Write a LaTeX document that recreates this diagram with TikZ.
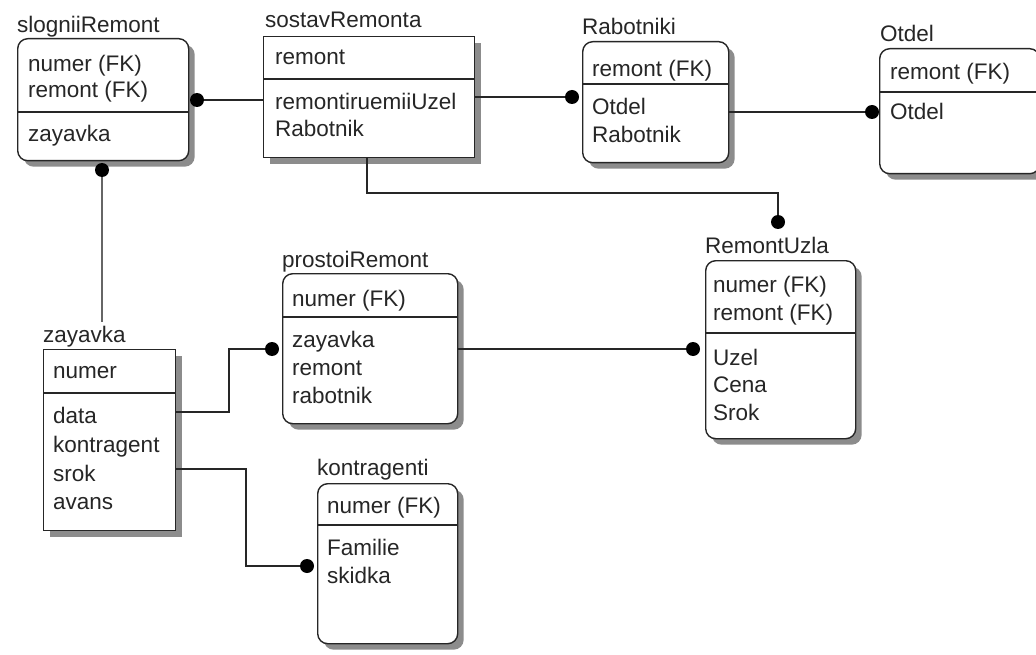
\documentclass[tikz,border=0pt]{standalone}
\usepackage{fontspec}
\setmainfont{Liberation Sans}
\usetikzlibrary{shadows}
\begin{document}
\begin{tikzpicture}[x=1pt,y=-1pt,
  ent/.style={draw=black!85, line width=1.4pt, fill=white, inner sep=0pt, anchor=north west,
     drop shadow={shadow xshift=6pt, shadow yshift=-6pt, fill=black!45, opacity=1}},
  dep/.style={ent, rounded corners=10pt},
  divl/.style={draw=black!85, line width=1.4pt},
  txt/.style={anchor=base west, inner sep=0pt, font=\fontsize{22.5}{27}\selectfont, text=black!85},
  rel/.style={draw=black!85, line width=1.4pt},
  dotc/.style={circle, fill=black, inner sep=0pt, minimum size=14pt}]
\useasboundingbox (0,0) rectangle (1036,655);
% ---------- entities ----------
\node[dep, minimum width=171pt, minimum height=122pt] (slog) at (17,38) {};
\node[ent, minimum width=211pt, minimum height=121pt] (sost) at (263,36) {};
\node[dep, minimum width=146pt, minimum height=121pt] (rabo) at (582,41) {};
\node[dep, minimum width=160pt, minimum height=125pt] (otde) at (879,48) {};
\node[ent, minimum width=132pt, minimum height=181pt] (zaya) at (43,349) {};
\node[dep, minimum width=175pt, minimum height=150pt] (pros) at (282,273) {};
\node[dep, minimum width=150pt, minimum height=178pt] (remu) at (705,260) {};
\node[dep, minimum width=140pt, minimum height=160pt] (kont) at (317,483) {};
% dividers
\draw[divl] (slog.west |- 0,112) -- (slog.east |- 0,112);
\draw[divl] (sost.west |- 0,79) -- (sost.east |- 0,79);
\draw[divl] (rabo.west |- 0,84) -- (rabo.east |- 0,84);
\draw[divl] (otde.west |- 0,92) -- (otde.east |- 0,92);
\draw[divl] (zaya.west |- 0,393) -- (zaya.east |- 0,393);
\draw[divl] (pros.west |- 0,317) -- (pros.east |- 0,317);
\draw[divl] (remu.west |- 0,333) -- (remu.east |- 0,333);
\draw[divl] (kont.west |- 0,525) -- (kont.east |- 0,525);
% ---------- titles ----------
\node[txt] (slogT) at (17,33) {slogniiRemont};
\node[txt] (sostT) at (265,28) {sostavRemonta};
\node[txt] (raboT) at (582,35) {Rabotniki};
\node[txt] (otdeT) at (880,42) {Otdel};
\node[txt] (zayaT) at (43,342) {zayavka};
\node[txt] (prosT) at (282,267) {prostoiRemont};
\node[txt] (remuT) at (705,253) {RemontUzla};
\node[txt] (kontT) at (317,475) {kontragenti};
% ---------- attributes ----------
\node[txt] (s1) at (28,72) {numer (FK)};
\node[txt] (s2) at (28,98) {remont (FK)};
\node[txt] (s3) at (28,142) {zayavka};
\node[txt] (o1) at (275,65) {remont};
\node[txt] (o2) at (275,110) {remontiruemiiUzel};
\node[txt] (o3) at (275,137) {Rabotnik};
\node[txt] (r1) at (592,77) {remont (FK)};
\node[txt] (r2) at (592,115) {Otdel};
\node[txt] (r3) at (592,143) {Rabotnik};
\node[txt] (t1) at (890,80) {remont (FK)};
\node[txt] (t2) at (890,120) {Otdel};
\node[txt] (z1) at (53,378) {numer};
\node[txt] (z2) at (53,423) {data};
\node[txt] (z3) at (53,452) {kontragent};
\node[txt] (z4) at (53,481) {srok};
\node[txt] (z5) at (53,509) {avans};
\node[txt] (p1) at (292,306) {numer (FK)};
\node[txt] (p2) at (292,347) {zayavka};
\node[txt] (p3) at (292,375) {remont};
\node[txt] (p4) at (292,403) {rabotnik};
\node[txt] (u1) at (713,292) {numer (FK)};
\node[txt] (u2) at (713,320) {remont (FK)};
\node[txt] (u3) at (713,365) {Uzel};
\node[txt] (u4) at (713,392) {Cena};
\node[txt] (u5) at (713,420) {Srok};
\node[txt] (k1) at (327,513) {numer (FK)};
\node[txt] (k2) at (327,555) {Familie};
\node[txt] (k3) at (327,583) {skidka};
% ---------- relationships ----------
\node[dotc] (d1) at (197,100) {};
\draw[rel] (d1) -- (sost.west |- d1);
\node[dotc] (d2) at (102,170) {};
\coordinate (e2) at (102,322);
\draw[rel, draw=black!60] (d2) -- (e2);
\node[dotc] (d3) at (572,97) {};
\draw[rel] (sost.east |- d3) -- (d3);
\node[dotc] (d4) at (778,222) {};
\draw[rel] (sost.south -| 367,0) |- (d4 |- 0,193) -- (d4);
\node[dotc] (d5) at (872,112) {};
\draw[rel] (rabo.east |- d5) -- (d5);
\node[dotc] (d6) at (272,349) {};
\draw[rel] (zaya.east |- 0,412) -| (229,380) |- (d6);
\node[dotc] (d7) at (693,349) {};
\draw[rel] (pros.east |- d7) -- (d7);
\node[dotc] (d8) at (307,566) {};
\draw[rel] (zaya.east |- 0,469) -| (246,520) |- (d8);
\end{tikzpicture}
\end{document}
